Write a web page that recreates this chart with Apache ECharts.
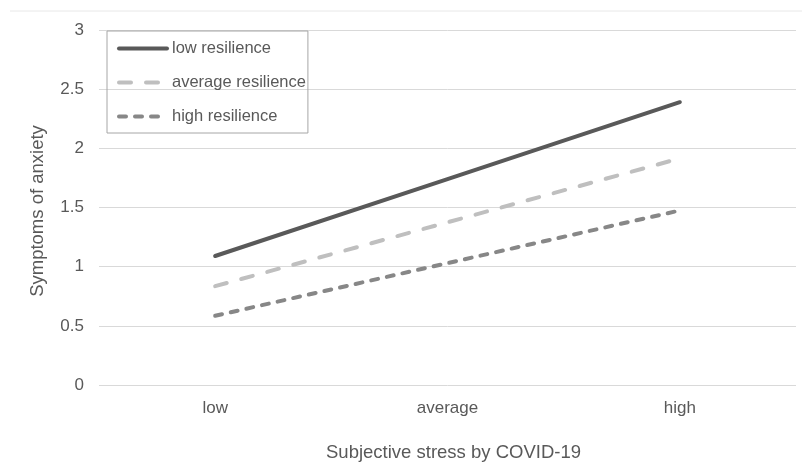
<!DOCTYPE html>
<html>
<head>
<meta charset="utf-8">
<script src="https://cdn.jsdelivr.net/npm/echarts@6/dist/echarts.min.js"></script>
<style>html,body{margin:0;padding:0;background:#fff;}#chart{width:802px;height:463px;}</style>
</head>
<body>
<div id="chart"></div>
<script>
var categories = ['low', 'average', 'high'];
var lowResilience = [1.09, 1.74, 2.39];
var averageResilience = [0.835, 1.375, 1.915];
var highResilience = [0.585, 1.03, 1.475];
var seriesNames = ['low resilience', 'average resilience', 'high resilience'];

var font = '"Liberation Sans", Arial, sans-serif';
var chart = echarts.init(document.getElementById('chart'));
chart.setOption({
  backgroundColor: '#ffffff',
  animation: false,
  textStyle: { fontFamily: font },
  graphic: [{
    type: 'line', shape: { x1: 10, y1: 11, x2: 802, y2: 11 },
    style: { stroke: '#e8e8e8', lineWidth: 1 }
  }],
  grid: { left: 99, right: 6, top: 30, bottom: 78, containLabel: false, outerBoundsMode: 'none' },
  legend: {
    orient: 'vertical', left: 107, top: 31,
    padding: [9, 2, 8, 10],
    borderColor: '#a6a6a6', borderWidth: 1,
    itemWidth: 48, itemHeight: 16, itemGap: 17,
    itemStyle: { opacity: 0 },
    lineStyle: { width: 4 },
    textStyle: { color: '#595959', fontSize: 16.5, fontFamily: font },
    data: seriesNames
  },
  xAxis: {
    type: 'category', data: categories, boundaryGap: true,
    axisLine: { show: false }, axisTick: { show: false },
    axisLabel: { color: '#595959', fontSize: 17, margin: 15, fontFamily: font },
    name: 'Subjective stress by COVID-19', nameLocation: 'middle', nameGap: 58,
    nameTextStyle: { color: '#595959', fontSize: 18.5, fontFamily: font, padding: [0, 0, 0, 12] }
  },
  yAxis: {
    type: 'value', min: 0, max: 3, interval: 0.5,
    axisLine: { show: false }, axisTick: { show: false },
    axisLabel: { color: '#595959', fontSize: 17, margin: 15, fontFamily: font },
    splitLine: { lineStyle: { color: '#d9d9d9', width: 1 } },
    name: 'Symptoms of anxiety', nameLocation: 'middle', nameGap: 52, nameRotate: 90,
    nameTextStyle: { color: '#595959', fontSize: 18.5, fontFamily: font, padding: [0, 7, 0, 0] }
  },
  series: [
    { name: seriesNames[0], type: 'line', data: lowResilience, showSymbol: false, symbol: 'none',
      itemStyle: { color: '#595959' },
      lineStyle: { color: '#595959', width: 4, cap: 'round' } },
    { name: seriesNames[1], type: 'line', data: averageResilience, showSymbol: false, symbol: 'none',
      itemStyle: { color: '#bfbfbf' },
      lineStyle: { color: '#bfbfbf', width: 4, type: [12, 15], cap: 'round' } },
    { name: seriesNames[2], type: 'line', data: highResilience, showSymbol: false, symbol: 'none',
      itemStyle: { color: '#878787' },
      lineStyle: { color: '#878787', width: 4, type: [7, 9], cap: 'round' } }
  ]
});
</script>
</body>
</html>
